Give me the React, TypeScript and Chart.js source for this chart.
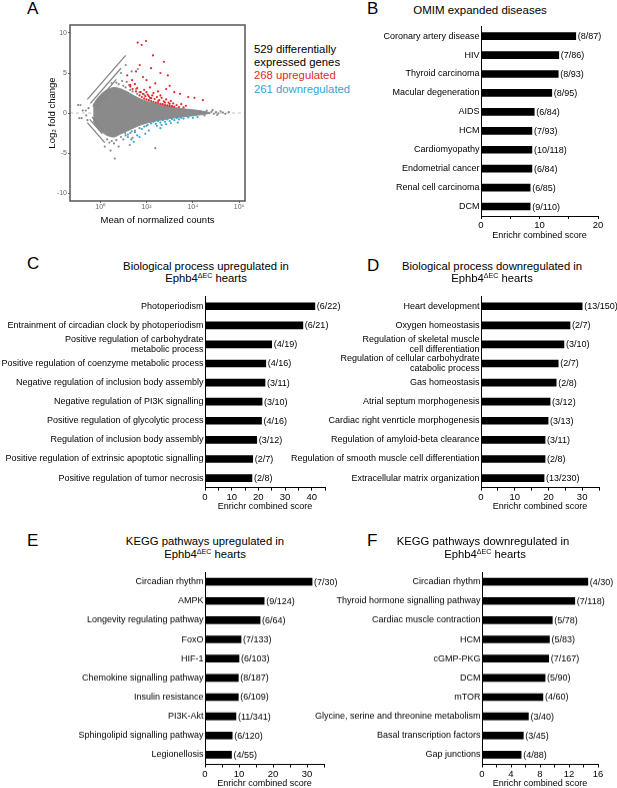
import React, { useEffect, useRef } from "react";
import { Chart, registerables } from "chart.js";
Chart.register(...registerables);

const FONT = "'Liberation Sans', Arial, Helvetica, sans-serif";
const RED = "#e3262b";
const BLUE = "#33a6cf";
const GRAY = "#8a8a8a";
const STREAK = "#858585";

// ---------- Panel A: MA plot (log10 mean of normalized counts, log2 fold change) ----------
const maXTicks = [1, 100, 10000, 1000000];
const maXTickLabels = ["10⁰", "10²", "10⁴", "10⁶"];
const maYTicks = [-10, -5, 0, 5, 10];
const maXRangeLog10 = [-1.3, 6.25];
const maYRange = [-11, 11];

// dense grey cloud outline, [log10 mean, log2FC]
const cloudTop: [number, number][] = [
  [-0.3, 1.0], [-0.2, 1.5], [-0.1, 1.9], [0.1, 2.5], [0.3, 2.9], [0.6, 3.2], [0.9, 3.0],
  [1.2, 2.6], [1.5, 2.1], [1.8, 1.7], [2.1, 1.4], [2.5, 1.1], [3.0, 0.8], [3.5, 0.55],
  [4.0, 0.4], [4.4, 0.25], [4.75, 0.05],
];
const cloudBottom: [number, number][] = [
  [-0.3, -1.0], [-0.2, -1.5], [-0.1, -1.9], [0.1, -2.4], [0.3, -2.8], [0.6, -3.0], [0.9, -2.6],
  [1.2, -2.2], [1.5, -1.8], [1.8, -1.45], [2.1, -1.2], [2.5, -0.95], [3.0, -0.7], [3.5, -0.5],
  [4.0, -0.35], [4.4, -0.2], [4.75, -0.05],
];
const upStreaks: [number, number][][] = [
  [[-0.55, 1.7], [1.1, 7.2]],
  [[-0.42, 1.2], [0.9, 5.6]],
  [[-0.32, 0.8], [0.7, 4.2]],
  [[-0.26, 0.5], [0.5, 3.0]],
];
const downStreaks: [number, number][][] = [
  [[-0.55, -1.2], [0.2, -3.7]],
  [[-0.45, -0.8], [0.1, -2.6]],
  [[-0.35, -0.5], [0.0, -1.7]],
];
const grayPoints: [number, number][] = [
  [-0.95, 1.0], [-0.85, 1.0], [-0.75, 0.3], [-0.62, 0.3], [-0.9, -0.65], [-0.8, -0.65], [-0.6, -0.3], [-0.5, 0.6], [-0.55, -0.9],
  [0.5, 3.7], [0.7, 3.8], [0.8, 3.6], [0.95, 4.0], [1.0, 3.4], [1.1, 3.2], [1.15, 3.9], [1.25, 3.5], [1.3, 2.9],
  [1.4, 2.7], [1.55, 3.0], [1.6, 2.4], [1.7, 2.6], [1.9, 2.3], [1.36, 5.2], [1.1, 6.0], [1.63, 5.5], [0.9, 5.0],
  [4.8, 0.15], [4.9, -0.1], [5.0, 0.1], [5.1, -0.05], [5.2, 0.2], [5.3, 0.05], [5.4, -0.1], [4.85, 0.35],
  [5.05, -0.25], [5.55, 0.1], [4.6, 0.3], [4.5, -0.3],
  [0.4, -3.7], [0.5, -3.5], [0.6, -3.8], [0.7, -3.4], [0.8, -4.2], [0.9, -3.0], [1.0, -3.3], [1.1, -2.8],
  [1.2, -3.0], [1.3, -2.5], [1.4, -3.1], [1.5, -2.2], [1.7, -1.9], [0.63, -5.7], [0.45, -4.7], [1.28, -4.0],
  [2.38, -4.4], [0.2, -4.2], [0.3, -3.3], [2.0, -1.6],
];
const upPoints: [number, number][] = [
  [1.62, 8.8], [1.98, 9.0], [1.79, 8.5], [2.28, 7.2], [2.75, 6.4], [2.92, 4.7], [1.71, 6.0], [1.17, 4.7],
  [1.38, 4.1], [2.0, 4.1], [2.38, 3.7], [2.6, 5.0], [1.5, 3.6], [2.15, 3.2], [2.85, 3.0], [3.2, 2.6],
  [3.45, 2.4], [4.07, 1.9], [4.43, 1.6], [3.8, 2.0], [1.3, 3.5], [1.9, 2.9], [2.5, 2.7], [3.0, 3.4],
  [2.2, 5.6], [1.85, 4.5], [1.55, 5.2],
  [1.7, 2.2], [1.8, 2.0], [1.85, 2.4], [1.9, 1.8], [1.95, 2.1], [2.0, 1.7], [2.05, 2.3], [2.1, 1.6],
  [2.15, 1.9], [2.2, 1.5], [2.25, 2.2], [2.3, 1.4], [2.35, 1.75], [2.4, 1.3], [2.45, 2.0], [2.5, 1.25],
  [2.55, 1.6], [2.6, 1.15], [2.65, 1.9], [2.7, 1.1], [2.75, 1.45], [2.8, 1.0], [2.85, 1.7], [2.9, 0.95],
  [2.95, 1.3], [3.0, 0.9], [3.05, 1.5], [3.1, 0.85], [3.15, 1.2], [3.2, 0.8], [3.3, 1.0], [3.4, 0.75],
  [3.5, 1.1], [3.6, 0.7], [3.7, 0.9], [2.0, 2.6], [2.3, 2.5], [2.6, 2.2], [2.2, 1.85], [2.5, 1.5],
  [2.8, 1.3], [3.0, 1.15], [1.75, 2.6], [2.1, 2.1], [1.4, 3.0], [1.55, 2.7], [1.6, 3.1], [1.3, 3.3],
];
const downPoints: [number, number][] = [
  [2.2, -1.3], [2.3, -1.1], [2.4, -1.35], [2.5, -1.0], [2.6, -1.2], [2.7, -0.9], [2.8, -1.1], [2.9, -0.8],
  [3.0, -1.0], [3.1, -0.75], [3.2, -0.9], [3.3, -0.65], [3.4, -0.8], [3.5, -0.6], [3.6, -0.7], [3.8, -0.55],
  [2.45, -1.6], [2.65, -1.5], [2.05, -1.5], [1.9, -1.7], [1.8, -2.0], [2.85, -1.4], [3.05, -1.25],
  [1.08, -2.5], [1.36, -2.3], [1.2, -2.7], [1.5, -2.4], [1.6, -2.8], [1.35, -3.3], [2.1, -2.2], [1.7, -3.0],
  [4.0, -0.6], [4.2, -0.5], [2.6, -1.9], [1.95, -2.6], [3.35, -1.2], [1.45, -3.6],
];

// ---------- Panel B ----------
const omimLabels = ["Coronary artery disease", "HIV", "Thyroid carcinoma", "Macular degeneration", "AIDS", "HCM", "Cardiomyopathy", "Endometrial cancer", "Renal cell carcinoma", "DCM"];
const omimScores = [16.2, 13.3, 13.2, 12.1, 9.1, 8.7, 8.7, 8.7, 8.4, 8.4];
const omimOverlap = ["(8/87)", "(7/86)", "(8/93)", "(8/95)", "(6/84)", "(7/93)", "(10/118)", "(6/84)", "(6/85)", "(9/110)"];

// ---------- Panel C ----------
const bpUpLabels: (string | string[])[] = ["Photoperiodism", "Entrainment of circadian clock by photoperiodism", ["Positive regulation of carbohydrate", "metabolic process"], "Positive regulation of coenzyme metabolic process", "Negative regulation of inclusion body assembly", "Negative regulation of PI3K signalling", "Positive regulation of glycolytic process", "Regulation of inclusion body assembly", "Positive regulation of extrinsic apoptotic signalling", "Positive regulation of tumor necrosis"];
const bpUpScores = [41.2, 36.7, 25.0, 22.8, 22.5, 21.4, 21.2, 19.4, 17.9, 17.6];
const bpUpOverlap = ["(6/22)", "(6/21)", "(4/19)", "(4/16)", "(3/11)", "(3/10)", "(4/16)", "(3/12)", "(2/7)", "(2/8)"];

// ---------- Panel D ----------
const bpDownLabels: (string | string[])[] = ["Heart development", "Oxygen homeostasis", ["Regulation of skeletal muscle", "cell differentiation"], ["Regulation of cellular carbohydrate", "catabolic process"], "Gas homeostasis", "Atrial septum morphogenesis", "Cardiac right venrticle morphogenesis", "Regulation of amyloid-beta clearance", "Regulation of smooth muscle cell differentiation", "Extracellular matrix organization"];
const bpDownScores = [30.0, 26.4, 24.6, 22.9, 22.3, 20.5, 19.9, 19.0, 19.0, 18.7];
const bpDownOverlap = ["(13/150)", "(2/7)", "(3/10)", "(2/7)", "(2/8)", "(3/12)", "(3/13)", "(3/11)", "(2/8)", "(13/230)"];

// ---------- Panel E ----------
const keggUpLabels = ["Circadian rhythm", "AMPK", "Longevity regulating pathway", "FoxO", "HIF-1", "Chemokine signalling pathway", "Insulin resistance", "PI3K-Akt", "Sphingolipid signalling pathway", "Legionellosis"];
const keggUpScores = [31.5, 17.4, 16.2, 10.6, 10.0, 9.8, 9.8, 9.1, 8.0, 7.8];
const keggUpOverlap = ["(7/30)", "(9/124)", "(6/64)", "(7/133)", "(6/103)", "(8/187)", "(6/109)", "(11/341)", "(6/120)", "(4/55)"];

// ---------- Panel F ----------
const keggDownLabels = ["Circadian rhythm", "Thyroid hormone signalling pathway", "Cardiac muscle contraction", "HCM", "cGMP-PKG", "DCM", "mTOR", "Glycine, serine and threonine metabolism", "Basal transcription factors", "Gap junctions"];
const keggDownScores = [14.6, 12.8, 9.7, 9.3, 9.2, 8.7, 8.4, 6.4, 5.7, 5.4];
const keggDownOverlap = ["(4/30)", "(7/118)", "(5/78)", "(5/83)", "(7/167)", "(5/90)", "(4/60)", "(3/40)", "(3/45)", "(4/88)"];

type Rect = { left: number; top: number; width: number; height: number };
type Area = { l: number; t: number; r: number; b: number };

const overlapPlugin = (texts: string[]) => ({
  id: "overlapText",
  afterDatasetsDraw(chart: any) {
    const meta = chart.getDatasetMeta(0);
    const ctx = chart.ctx;
    ctx.save();
    ctx.font = `9px ${FONT}`;
    ctx.fillStyle = "#000";
    ctx.textAlign = "left";
    ctx.textBaseline = "middle";
    meta.data.forEach((bar: any, i: number) => {
      ctx.fillText(texts[i], bar.x + 2, bar.y + 0.5);
    });
    ctx.restore();
  },
});

function BarPanel(props: {
  canvas: Rect;
  area: Area;
  labels: (string | string[])[];
  scores: number[];
  overlap: string[];
  max: number;
  step: number;
  labelEvery: number;
}) {
  const ref = useRef<HTMLCanvasElement>(null);
  const c = props.canvas;
  useEffect(() => {
    const a = props.area;
    const yW = a.l - c.left;
    const xH = c.top + c.height - a.b;
    const padTop = a.t - c.top;
    const padRight = c.left + c.width - a.r;
    const chart = new Chart(ref.current as HTMLCanvasElement, {
      type: "bar",
      data: {
        labels: props.labels as any,
        datasets: [
          {
            data: props.scores,
            backgroundColor: "#000",
            borderWidth: 0,
            barThickness: 7,
          },
        ],
      },
      options: {
        indexAxis: "y",
        responsive: false,
        maintainAspectRatio: false,
        animation: false,
        layout: { padding: { top: padTop, right: padRight, left: 0, bottom: 0 } },
        plugins: { legend: { display: false }, tooltip: { enabled: false } },
        scales: {
          y: {
            type: "category",
            grid: { display: false, drawTicks: false },
            border: { display: true, color: "#000", width: 1 },
            ticks: {
              color: "#000",
              font: { family: FONT, size: 9, lineHeight: 1.15 },
              padding: 1.5,
              autoSkip: false,
            },
            afterFit: (s: any) => {
              s.width = yW;
            },
          },
          x: {
            type: "linear",
            min: 0,
            max: props.max,
            grid: { display: true, drawOnChartArea: false, drawTicks: true, tickLength: 3, color: "#000", lineWidth: 1 },
            border: { display: true, color: "#000", width: 1 },
            ticks: {
              stepSize: props.step,
              autoSkip: false,
              maxRotation: 0,
              color: "#000",
              font: { family: FONT, size: 9.5 },
              padding: 1,
              callback: (v: any) => (Number(v) % props.labelEvery === 0 ? String(v) : ""),
            },
            title: {
              display: true,
              text: "Enrichr combined score",
              color: "#000",
              font: { family: FONT, size: 9 },
              padding: 0,
            },
            afterFit: (s: any) => {
              s.height = xH;
            },
          },
        },
      },
      plugins: [overlapPlugin(props.overlap)],
    });
    return () => chart.destroy();
  }, []);
  return (
    <canvas
      ref={ref}
      width={c.width}
      height={c.height}
      style={{ position: "absolute", left: c.left, top: c.top, width: c.width, height: c.height }}
    />
  );
}

const boxPlugin = {
  id: "maBox",
  afterDraw(chart: any) {
    const { left, top, right, bottom } = chart.chartArea;
    const ctx = chart.ctx;
    ctx.save();
    ctx.strokeStyle = "#555";
    ctx.lineWidth = 1.5;
    ctx.strokeRect(left, top, right - left, bottom - top);
    ctx.restore();
  },
};

function MAPlot() {
  const ref = useRef<HTMLCanvasElement>(null);
  const c: Rect = { left: 47, top: 15, width: 206, height: 211 };
  const a: Area = { l: 70, t: 25, r: 245, b: 201 };
  useEffect(() => {
    const toXY = (pts: [number, number][]) => pts.map(([m, y]) => ({ x: Math.pow(10, m), y }));
    const xMin = Math.pow(10, maXRangeLog10[0]);
    const xMax = Math.pow(10, maXRangeLog10[1]);
    const datasets: any[] = [
      { type: "scatter", data: toXY(upPoints), backgroundColor: RED, pointRadius: 1.1, borderWidth: 0 },
      { type: "scatter", data: toXY(downPoints), backgroundColor: BLUE, pointRadius: 1.1, borderWidth: 0 },
      { type: "scatter", data: toXY(grayPoints), backgroundColor: GRAY, pointRadius: 1.1, borderWidth: 0 },
      ...upStreaks.map((s) => ({ type: "line", data: toXY(s), borderColor: STREAK, borderWidth: 1.3, pointRadius: 0, fill: false })),
      ...downStreaks.map((s) => ({ type: "line", data: toXY(s), borderColor: STREAK, borderWidth: 1.3, pointRadius: 0, fill: false })),
      { type: "line", data: toXY(cloudTop), borderColor: GRAY, backgroundColor: GRAY, borderWidth: 1, pointRadius: 0, fill: "+1", tension: 0.3 },
      { type: "line", data: toXY(cloudBottom), borderColor: GRAY, borderWidth: 1, pointRadius: 0, fill: false, tension: 0.3 },
      { type: "line", data: [{ x: xMin, y: 0 }, { x: xMax, y: 0 }], borderColor: "#c4c4c4", borderDash: [3, 3], borderWidth: 1, pointRadius: 0, fill: false },
    ];
    const chart = new Chart(ref.current as HTMLCanvasElement, {
      type: "scatter",
      data: { datasets },
      options: {
        responsive: false,
        maintainAspectRatio: false,
        animation: false,
        layout: { padding: { top: a.t - c.top, right: c.left + c.width - a.r, left: 0, bottom: 0 } },
        plugins: { legend: { display: false }, tooltip: { enabled: false } },
        scales: {
          x: {
            type: "logarithmic",
            min: xMin,
            max: xMax,
            afterBuildTicks: (s: any) => {
              s.ticks = maXTicks.map((v) => ({ value: v }));
            },
            ticks: {
              callback: (_v: any, i: number) => maXTickLabels[i],
              color: "#666",
              font: { family: FONT, size: 7 },
              padding: 0,
              maxRotation: 0,
              autoSkip: false,
            },
            grid: { drawOnChartArea: false, tickLength: 2, color: "#666" },
            border: { display: false },
            title: { display: true, text: "Mean of normalized counts", color: "#000", font: { family: FONT, size: 9.5 }, padding: 0 },
            afterFit: (s: any) => {
              s.height = c.top + c.height - a.b;
            },
          },
          y: {
            type: "linear",
            min: maYRange[0],
            max: maYRange[1],
            afterBuildTicks: (s: any) => {
              s.ticks = maYTicks.map((v) => ({ value: v }));
            },
            ticks: {
              callback: (_v: any, i: number) => String(maYTicks[i]),
              color: "#666",
              font: { family: FONT, size: 7 },
              padding: 1,
              autoSkip: false,
            },
            grid: { drawOnChartArea: false, tickLength: 2, color: "#666" },
            border: { display: false },
            title: { display: true, text: "Log₂ fold change", color: "#000", font: { family: FONT, size: 9.5 }, padding: 0 },
            afterFit: (s: any) => {
              s.width = a.l - c.left;
            },
          },
        },
      },
      plugins: [boxPlugin],
    });
    return () => chart.destroy();
  }, []);
  return (
    <canvas
      ref={ref}
      width={c.width}
      height={c.height}
      style={{ position: "absolute", left: c.left, top: c.top, width: c.width, height: c.height }}
    />
  );
}

function Txt(props: { x: number; y: number; size: number; children: React.ReactNode; align?: "left" | "center"; color?: string }) {
  const lh = props.size * 1.2;
  const center = props.align === "center";
  const w = 320;
  return (
    <div
      style={{
        position: "absolute",
        left: center ? props.x - w / 2 : props.x,
        top: props.y - lh / 2,
        width: center ? w : undefined,
        textAlign: center ? "center" : "left",
        fontFamily: FONT,
        fontSize: props.size,
        lineHeight: `${lh}px`,
        color: props.color || "#000",
        whiteSpace: "nowrap",
      }}
    >
      {props.children}
    </div>
  );
}

const Sup = () => (
  <span style={{ fontSize: 7, position: "relative", top: -4 }}>ΔEC</span>
);

export default function App() {
  const TS = 11.3;
  return (
    <div style={{ position: "absolute", left: 0, top: 0, width: 617, height: 788, overflow: "hidden", background: "#fff" }}>
      {/* Panel letters */}
      <Txt x={27} y={9} size={17}>A</Txt>
      <Txt x={367} y={9} size={17}>B</Txt>
      <Txt x={27} y={264} size={17}>C</Txt>
      <Txt x={367} y={266} size={17}>D</Txt>
      <Txt x={27} y={541} size={17}>E</Txt>
      <Txt x={367} y={541} size={17}>F</Txt>

      {/* Panel A */}
      <MAPlot />
      <Txt x={254} y={50} size={TS}>529 differentially</Txt>
      <Txt x={254} y={63} size={TS}>expressed genes</Txt>
      <Txt x={254} y={76} size={TS} color={RED}>268 upregulated</Txt>
      <Txt x={254} y={90} size={TS} color={BLUE}>261 downregulated</Txt>

      {/* Panel B */}
      <Txt x={480} y={11} size={11.5} align="center">OMIM expanded diseases</Txt>
      <BarPanel
        canvas={{ left: 300, top: 20, width: 317, height: 221 }}
        area={{ l: 481, t: 23.4, r: 598, b: 216 }}
        labels={omimLabels}
        scores={omimScores}
        overlap={omimOverlap}
        max={20}
        step={5}
        labelEvery={10}
      />

      {/* Panel C */}
      <Txt x={206} y={267} size={TS} align="center">Biological process upregulated in</Txt>
      <Txt x={206} y={278.5} size={TS} align="center">Ephb4<Sup /> hearts</Txt>
      <BarPanel
        canvas={{ left: 0, top: 290, width: 345, height: 222 }}
        area={{ l: 205, t: 295.4, r: 325, b: 487.6 }}
        labels={bpUpLabels}
        scores={bpUpScores}
        overlap={bpUpOverlap}
        max={45}
        step={5}
        labelEvery={10}
      />

      {/* Panel D */}
      <Txt x={492} y={267} size={TS} align="center">Biological process downregulated in</Txt>
      <Txt x={492} y={278.5} size={TS} align="center">Ephb4<Sup /> hearts</Txt>
      <BarPanel
        canvas={{ left: 280, top: 290, width: 337, height: 222 }}
        area={{ l: 481, t: 295.4, r: 599, b: 487.6 }}
        labels={bpDownLabels}
        scores={bpDownScores}
        overlap={bpDownOverlap}
        max={35}
        step={5}
        labelEvery={10}
      />

      {/* Panel E */}
      <Txt x={205} y={542} size={TS} align="center">KEGG pathways upregulated in</Txt>
      <Txt x={205} y={554.5} size={TS} align="center">Ephb4<Sup /> hearts</Txt>
      <BarPanel
        canvas={{ left: 0, top: 565, width: 345, height: 223.5 }}
        area={{ l: 205, t: 572, r: 324, b: 764 }}
        labels={keggUpLabels}
        scores={keggUpScores}
        overlap={keggUpOverlap}
        max={35}
        step={5}
        labelEvery={10}
      />

      {/* Panel F */}
      <Txt x={483} y={542} size={TS} align="center">KEGG pathways downregulated in</Txt>
      <Txt x={485} y={554.5} size={TS} align="center">Ephb4<Sup /> hearts</Txt>
      <BarPanel
        canvas={{ left: 280, top: 565, width: 337, height: 223.5 }}
        area={{ l: 482, t: 572, r: 598, b: 764 }}
        labels={keggDownLabels}
        scores={keggDownScores}
        overlap={keggDownOverlap}
        max={16}
        step={2}
        labelEvery={4}
      />
    </div>
  );
}
